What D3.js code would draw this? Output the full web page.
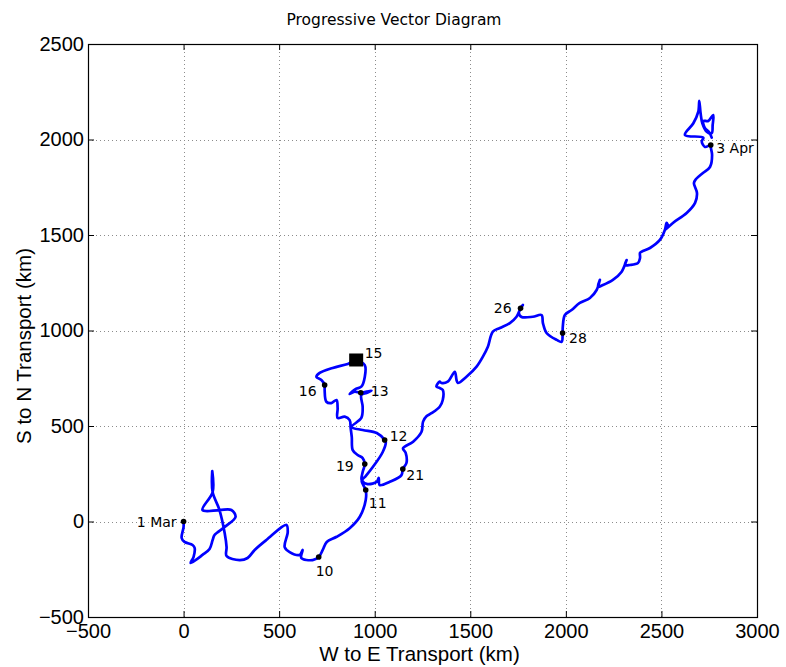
<!DOCTYPE html>
<html>
<head>
<meta charset="utf-8">
<script src="https://cdn.jsdelivr.net/npm/d3@7"></script>
<style>
  body { margin: 0; background: #ffffff; }
  svg { display: block; }
</style>
</head>
<body>
<svg id="chart" width="786" height="667"></svg>
<script>
// Axis ticks (km)
const xTicks = [-500, 0, 500, 1000, 1500, 2000, 2500, 3000];
const yTicks = [-500, 0, 500, 1000, 1500, 2000, 2500];

// Cumulative displacement track (km east, km north)
const trackX = [
  0, 0, -10, 5, 47, 58, 52, 37, 99, 136, 152, 162, 215, 272, 250, 188, 99, 152, 150, 152,
  188, 215, 225, 225, 293, 335, 372, 433, 538, 545, 529, 555, 607, 623, 616, 675, 707,
  728, 749, 801, 869, 922, 953, 953,
  932, 953, 990, 1042, 1058, 1052,
  1011, 937, 880, 930, 937, 930, 957, 983, 957, 927,
  895, 869, 901, 930, 948, 948, 903,
  859, 780, 712, 695, 721, 738,
  738, 747, 773, 800, 806, 806, 843, 869, 874, 880, 885, 911, 937, 948,
  937, 932, 963, 1011, 1021, 1026, 1079, 1140, 1147,
  1166, 1162, 1148, 1201, 1245, 1253, 1272, 1297, 1340, 1356, 1356, 1340, 1323, 1340, 1349,
  1382, 1419, 1428, 1435, 1480, 1533, 1566, 1592, 1618, 1655, 1707, 1742, 1763,
  1775, 1754, 1768, 1827, 1873, 1880, 1899, 1952, 1978, 1983,
  1984, 1995, 2030, 2073, 2126, 2161, 2178, 2168, 2194, 2246, 2292, 2318, 2309, 2335, 2377,
  2388, 2388, 2397, 2440, 2492, 2518, 2527, 2534, 2518, 2560, 2632, 2676, 2686, 2670, 2681,
  2717, 2754, 2765, 2759, 2758,
  2728, 2711, 2719, 2623, 2667, 2693, 2698, 2705, 2714, 2737, 2763, 2768, 2771, 2745, 2719,
  2728, 2750, 2763
];
const trackY = [
  0, -29, -86, -107, -123, -139, -186, -217, -175, -144, -97, -71, -29, 24, 60, 60, 60, 154, 264, 154,
  60, -60, -134, -181, -202, -191, -149, -97, -18, -55, -134, -160, -175, -149, -191, -202, -186,
  -149, -107, -80, -35, 25, 113, 165,
  212, 238, 285, 364, 416, 427,
  463, 479, 495, 542, 600, 662, 673, 685, 680, 674,
  680, 668, 694, 706, 757, 819, 843,
  825, 804, 778, 757, 741, 715,
  689, 627, 620, 636, 594, 542, 549, 531, 490, 442, 374, 348, 332, 301,
  259, 217, 196, 208, 228, 191, 208, 243, 275,
  306, 359, 383, 418, 470, 523, 552, 567, 601, 636, 689, 699, 706, 732, 725,
  732, 784, 741, 725, 758, 811, 863, 915, 994, 1013, 1039, 1072, 1116,
  1134, 1092, 1071, 1072, 1081, 1039, 987, 951, 941, 987,
  1020, 1081, 1107, 1144, 1170, 1212, 1265, 1229, 1238, 1265, 1308, 1369, 1343, 1343, 1353,
  1380, 1406, 1413, 1432, 1474, 1526, 1563, 1544, 1526, 1563, 1615, 1668, 1720, 1772, 1793,
  1825, 1856, 1919, 1955, 1971,
  1961, 1989, 2010, 2024, 2085, 2146, 2202, 2137, 2085, 2041, 2033, 2076, 2128, 2097, 2097,
  2059, 2038, 2010
];

// Dated positions along the track
const markerNames = ["1 Mar", "10", "11", "12", "13", "15", "16", "19", "21", "26", "28", "3 Apr"];
const markerX = [0, 707, 953, 1052, 927, 903, 738, 948, 1147, 1763, 1983, 2758];
const markerY = [0, -186, 165, 427, 674, 843, 715, 301, 275, 1116, 987, 1971];
const markerShape = ["dot", "dot", "dot", "dot", "dot", "square", "dot", "dot", "dot", "dot", "dot", "dot"];

// ---- layout ----
const W = 786, H = 667;
const plot = { left: 88, right: 757, top: 44, bottom: 617 };
const tickFont = "'Liberation Sans', Arial, sans-serif";
const noteFont = "'DejaVu Sans', sans-serif";

// label placement relative to each marker: [dx, dy, anchor]
const labelPlace = {
  "1 Mar": [-7, 5, "end"], "10": [-3, 19, "start"], "11": [3, 18, "start"],
  "12": [5, 1, "start"], "13": [10, 3, "start"], "15": [8.5, -2.5, "start"],
  "16": [-8, 11, "end"], "19": [-11, 6.5, "end"], "21": [3.5, 11.5, "start"],
  "26": [-9, 5, "end"], "28": [6.5, 10, "start"], "3 Apr": [5.5, 8, "start"]
};

const svg = d3.select("#chart");
svg.append("rect").attr("width", W).attr("height", H).attr("fill", "#ffffff");

const x = d3.scaleLinear().domain([-500, 3000]).range([plot.left, plot.right]);
const y = d3.scaleLinear().domain([-500, 2500]).range([plot.bottom, plot.top]);

// dotted grid
const grid = svg.append("g").attr("stroke", "#8c8c8c").attr("stroke-width", 1)
  .attr("stroke-dasharray", "1,3").attr("shape-rendering", "crispEdges");
grid.selectAll("line.gx").data(xTicks.slice(1, -1)).join("line")
  .attr("x1", d => Math.round(x(d)) + 0.5).attr("x2", d => Math.round(x(d)) + 0.5)
  .attr("y1", plot.top).attr("y2", plot.bottom);
grid.selectAll("line.gy").data(yTicks.slice(1, -1)).join("line")
  .attr("y1", d => Math.round(y(d)) + 0.5).attr("y2", d => Math.round(y(d)) + 0.5)
  .attr("x1", plot.left).attr("x2", plot.right);

// axes with inward ticks on all four sides
const tickLen = 6;
const fmt = d3.format("d");
const gx = svg.append("g").attr("transform", `translate(0,${plot.bottom})`)
  .call(d3.axisBottom(x).tickValues(xTicks).tickSize(-tickLen).tickPadding(7).tickFormat(d => fmt(d).replace("-", "\u2212")));
const gy = svg.append("g").attr("transform", `translate(${plot.left},0)`)
  .call(d3.axisLeft(y).tickValues(yTicks).tickSize(-tickLen).tickPadding(4).tickFormat(d => fmt(d).replace("-", "\u2212")));
const gt = svg.append("g").attr("transform", `translate(0,${plot.top})`)
  .call(d3.axisTop(x).tickValues(xTicks).tickSize(-tickLen).tickFormat(""));
const gr = svg.append("g").attr("transform", `translate(${plot.right},0)`)
  .call(d3.axisRight(y).tickValues(yTicks).tickSize(-tickLen).tickFormat(""));

[gx, gy, gt, gr].forEach(g => {
  g.select(".domain").remove();
  g.selectAll(".tick line").attr("stroke", "#000").attr("stroke-width", 1);
  g.selectAll("text").attr("font-family", tickFont).attr("font-size", 20).attr("fill", "#000");
});

// box
svg.append("rect")
  .attr("x", plot.left + 0.5).attr("y", plot.top + 0.5)
  .attr("width", plot.right - plot.left).attr("height", plot.bottom - plot.top)
  .attr("fill", "none").attr("stroke", "#000").attr("stroke-width", 1.2);

// track
const pts = trackX.map((v, i) => [v, trackY[i]]);
svg.append("path")
  .datum(pts)
  .attr("d", d3.line().x(d => x(d[0])).y(d => y(d[1])).curve(d3.curveCatmullRom.alpha(0.5)))
  .attr("fill", "none").attr("stroke", "#0000ff").attr("stroke-width", 2.7)
  .attr("stroke-linejoin", "round").attr("stroke-linecap", "round");

// markers
const marks = markerNames.map((n, i) => ({ n, x: markerX[i], y: markerY[i], s: markerShape[i] }));
svg.selectAll("circle.mk").data(marks.filter(m => m.s === "dot")).join("circle")
  .attr("cx", d => x(d.x)).attr("cy", d => y(d.y)).attr("r", 2.8).attr("fill", "#000");
const sq = 14;
svg.selectAll("rect.mk").data(marks.filter(m => m.s === "square")).join("rect")
  .attr("x", d => x(d.x) - sq / 2).attr("y", d => y(d.y) - sq / 2)
  .attr("width", sq).attr("height", sq - 1).attr("fill", "#000");

svg.selectAll("text.mk").data(marks).join("text")
  .attr("x", d => x(d.x) + labelPlace[d.n][0])
  .attr("y", d => y(d.y) + labelPlace[d.n][1])
  .attr("text-anchor", d => labelPlace[d.n][2])
  .attr("font-family", noteFont).attr("font-size", 14).attr("fill", "#000")
  .text(d => d.n);

// titles
svg.append("text")
  .attr("x", 394).attr("y", 25)
  .attr("text-anchor", "middle").attr("font-family", noteFont).attr("font-size", 15.5)
  .text("Progressive Vector Diagram");
svg.append("text")
  .attr("x", (plot.left + plot.right) / 2 - 3).attr("y", 661)
  .attr("text-anchor", "middle").attr("font-family", tickFont).attr("font-size", 20.5)
  .text("W to E Transport (km)");
svg.append("text")
  .attr("transform", `translate(31,346) rotate(-90)`)
  .attr("text-anchor", "middle").attr("font-family", tickFont).attr("font-size", 20.5)
  .text("S to N Transport (km)");
</script>
</body>
</html>
